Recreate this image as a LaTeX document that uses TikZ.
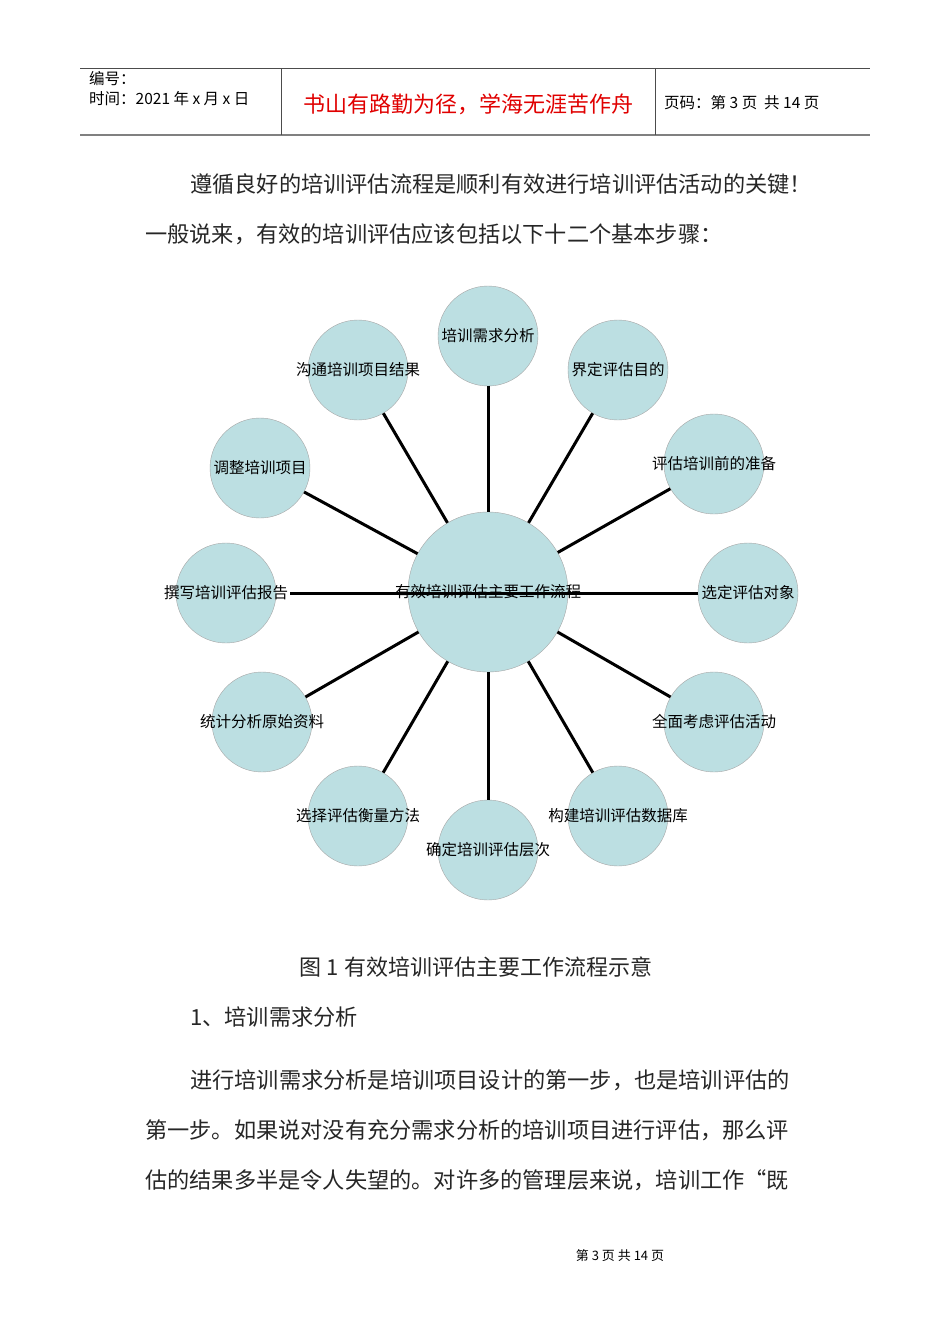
\documentclass[tikz,border=0pt]{standalone}
\usepackage{fontspec}
\setmainfont{Liberation Sans}
\newfontfamily\cjk{Noto Sans CJK SC}
\usetikzlibrary{calc}
\definecolor{bub}{HTML}{BCDFE2}
\definecolor{hdr}{HTML}{E00000}
\begin{document}
\begin{tikzpicture}[x=1pt,y=-1pt,
  bubble/.style={circle,fill=bub,draw=gray!70,line width=0.4pt,minimum size=100pt,inner sep=0pt},
  lbl/.style={font=\cjk\fontsize{15.5}{15.5}\selectfont,inner sep=0pt},
  spoke/.style={line width=3pt,black},
  body/.style={font=\cjk\fontsize{22.2}{22.2}\selectfont,anchor=west,inner sep=0pt,text=black!85}]
\useasboundingbox (0,0) rectangle (950,1344);
% header
\draw[black!70,line width=0.8pt] (80,68) -- (870,68);
\draw[gray,line width=1.4pt] (80,135) -- (870,135);
\draw[black!70,line width=0.8pt] (281,68) -- (281,135) (655,68) -- (655,135);
\node[anchor=west,font=\cjk\fontsize{15.5}{15.5}\selectfont,inner sep=0pt] (h1) at (89,79) {编号：};
\node[anchor=west,font=\cjk\fontsize{15.5}{15.5}\selectfont,inner sep=0pt] (h2) at (89,99) {时间：2021 年 x 月 x 日};
\node[font=\cjk\fontsize{22}{22}\selectfont,text=hdr,inner sep=0pt] (h3) at (468,104) {书山有路勤为径，学海无涯苦作舟};
\node[anchor=west,font=\cjk\fontsize{15.5}{15.5}\selectfont,inner sep=0pt] (h4) at (664,103) {页码：第 3 页\ \ 共 14 页};
% body
\node[body] (t1) at (190,184) {遵循良好的培训评估流程是顺利有效进行培训评估活动的关键！};
\node[body] (t2) at (145,234) {一般说来，有效的培训评估应该包括以下十二个基本步骤：};
% diagram
\node[bubble,minimum size=160pt] (c) at (488,592) {};
\foreach \n/\x/\y in {a/488/336,b/618/370,cc/714/464,d/748/593,e/714/722,f/618/816,g/488/850,h/358/816,i/262/722,j/226/593,k/260/468,l/358/370}
  \node[bubble] (\n) at (\x,\y) {};
\foreach \n in {a,b,cc,e,f,g,h,i,k,l}
  \draw[spoke] (c) -- (\n);
\draw[spoke] ($(j.center)+(64,0)$) -- (d.west);
\node[lbl] at (a) {培训需求分析};
\node[lbl] at (b) {界定评估目的};
\node[lbl] at (cc) {评估培训前的准备};
\node[lbl] at (d) {选定评估对象};
\node[lbl] at (e) {全面考虑评估活动};
\node[lbl] at (f) {构建培训评估数据库};
\node[lbl] at (g) {确定培训评估层次};
\node[lbl] at (h) {选择评估衡量方法};
\node[lbl] at (i) {统计分析原始资料};
\node[lbl] at (j) {撰写培训评估报告};
\node[lbl] at (k) {调整培训项目};
\node[lbl] at (l) {沟通培训项目结果};
\node[lbl] (ca) at (c) {有效培训评估主要工作流程};
% text below
\node[font=\cjk\fontsize{22}{22}\selectfont,inner sep=0pt,text=black!85] (cap) at (476,967) {图 1 有效培训评估主要工作流程示意};
\node[body] (t3) at (190,1017) {1、培训需求分析};
\node[body] (t4) at (190,1080) {进行培训需求分析是培训项目设计的第一步，也是培训评估的};
\node[body] (t5) at (145,1130) {第一步。如果说对没有充分需求分析的培训项目进行评估，那么评};
\node[body] (t6) at (145,1180) {估的结果多半是令人失望的。对许多的管理层来说，培训工作“既};
\node[font=\cjk\fontsize{13}{13}\selectfont,inner sep=0pt] (ft) at (620,1256) {第 3 页 共 14 页};
\end{tikzpicture}
\end{document}
